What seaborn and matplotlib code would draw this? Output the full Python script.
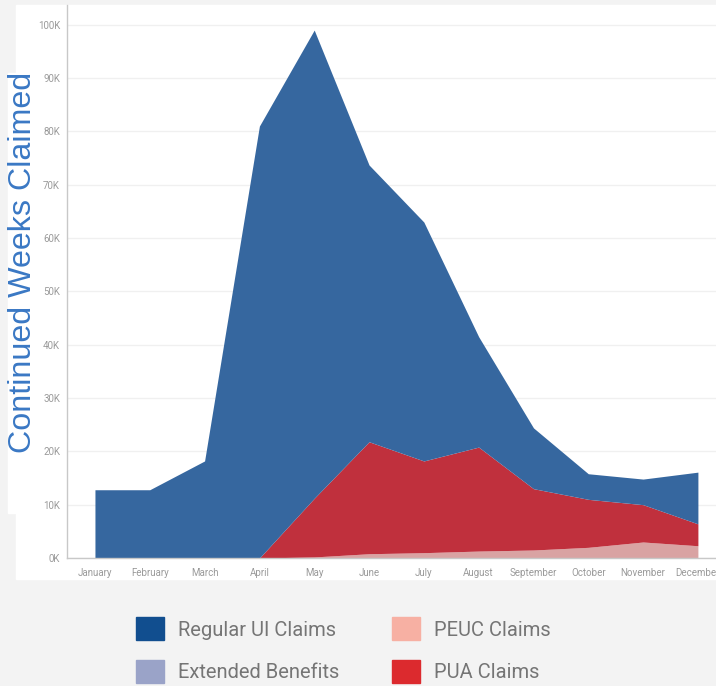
import matplotlib.pyplot as plt
import seaborn as sns
import numpy as np
from matplotlib.patches import Patch, Rectangle

months = ["January", "February", "March", "April", "May", "June",
          "July", "August", "September", "October", "November", "December"]

# continued weeks claimed, in thousands
regular_ui = [12.8, 12.8, 18.2, 81.0, 87.8, 51.9, 44.8, 20.7, 11.4, 4.8, 4.8, 9.7]
extended = [0, 0, 0, 0, 0, 0, 0, 0, 0, 0, 0, 0]
peuc = [0, 0, 0, 0, 0.2, 0.8, 1.0, 1.3, 1.5, 2.0, 3.0, 2.3]
pua = [0, 0, 0, 0, 11.0, 21.0, 17.2, 19.5, 11.5, 9.0, 7.0, 4.1]

y_ticks = [0, 10, 20, 30, 40, 50, 60, 70, 80, 90, 100]

sns.set_theme(style="white")
plt.rcParams["font.family"] = ["Roboto", "DejaVu Sans"]

W, H = 716, 686
fig = plt.figure(figsize=(W / 100, H / 100), dpi=100, facecolor="#f3f3f3")

# white panels behind the chart and the axis title
fig.patches.append(Rectangle((16 / W, 1 - 579 / H), 1 - 16 / W, (579 - 5) / H,
                             transform=fig.transFigure, color="white", zorder=-2))
fig.patches.append(Rectangle((8 / W, 1 - 513 / H), 10 / W, (513 - 73) / H,
                             transform=fig.transFigure, color="white", zorder=-2))

ax = fig.add_axes([67 / W, 1 - 558 / H, 1 - 67 / W, (558 - 5) / H])
ax.set_zorder(1)
ax.set_facecolor("white")

x = np.arange(len(months))
k = 1000
ax.stackplot(x, np.array(peuc) * k, np.array(pua) * k, np.array(regular_ui) * k,
             colors=["#d9a3a3", "#c0303d", "#36679f"], linewidth=0, zorder=2)

ax.set_xlim(-0.51, 11.33)
ax.set_ylim(0, 103700)
ax.set_yticks([v * k for v in y_ticks])
ax.set_yticklabels([f"{v}K" for v in y_ticks])
ax.set_xticks(x)
ax.set_xticklabels(months)
ax.set_xticks(x[:-1] + 0.5, minor=True)
ax.tick_params(axis="both", which="major", labelsize=7, labelcolor="#9a9a9a", length=0)
ax.tick_params(axis="x", which="major", pad=7)
ax.tick_params(axis="y", which="major", pad=5)
ax.tick_params(axis="x", which="minor", length=6, color="#e8e8e8", width=0.8, direction="out")
ax.grid(axis="y", color="#f0f0f0", linewidth=1, zorder=0)
ax.set_axisbelow(True)

sns.despine(ax=ax, top=True, right=True)
ax.spines["left"].set_color("#c8c8c8")
ax.spines["bottom"].set_color("#c8c8c8")
ax.spines["left"].set_linewidth(1)
ax.spines["bottom"].set_linewidth(1)

fig.text(23 / W, 1 - 262 / H, "Continued Weeks Claimed", rotation=90,
         ha="center", va="center", fontsize=23.2, color="#3a78c4",
         family=["Liberation Sans", "DejaVu Sans"])

handles = [
    Patch(color="#114e8f", label="Regular UI Claims"),
    Patch(color="#9aa3c8", label="Extended Benefits"),
    Patch(color="#f7b0a3", label="PEUC Claims"),
    Patch(color="#dc2a2e", label="PUA Claims"),
]
leg = fig.legend(handles=handles, ncol=2, loc="center left",
                 bbox_to_anchor=(118 / W, 1 - 650 / H), frameon=False,
                 fontsize=14.5, labelcolor="#757575",
                 handlelength=1.4, handleheight=1.4, handletextpad=0.7,
                 columnspacing=2.6, labelspacing=0.95)

fig.savefig("out.png", dpi=100, facecolor=fig.get_facecolor())
